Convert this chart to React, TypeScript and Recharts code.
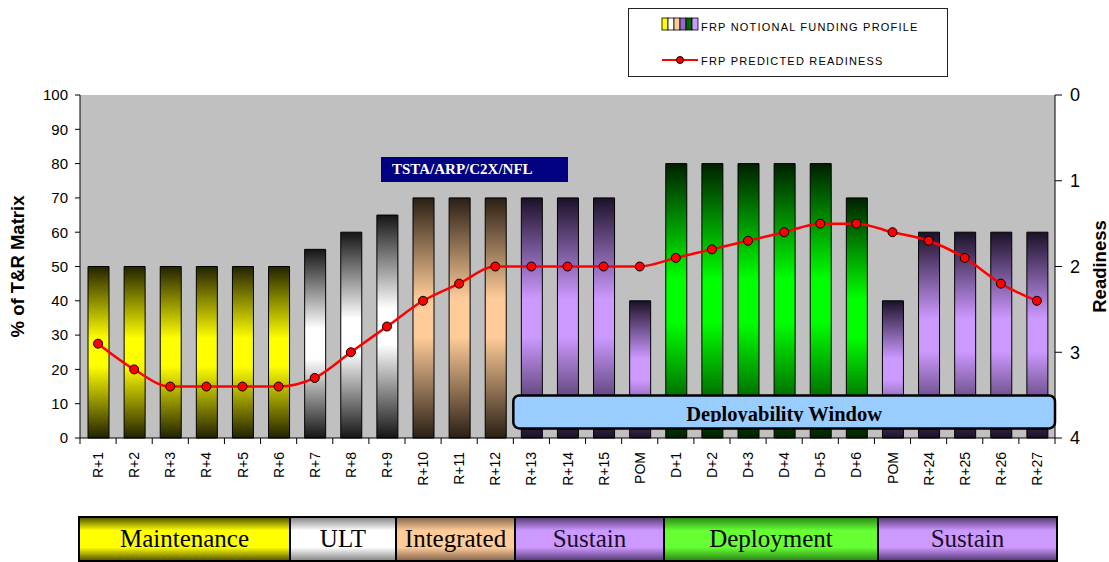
import React from 'react';
import {
  ComposedChart,
  Bar,
  Line,
  XAxis,
  YAxis,
  Cell,
  ReferenceArea,
  Legend,
  Label,
  CartesianGrid,
} from 'recharts';

// ---------- data ----------
const categories = [
  'R+1', 'R+2', 'R+3', 'R+4', 'R+5', 'R+6', 'R+7', 'R+8', 'R+9', 'R+10', 'R+11', 'R+12',
  'R+13', 'R+14', 'R+15', 'POM', 'D+1', 'D+2', 'D+3', 'D+4', 'D+5', 'D+6', 'POM',
  'R+24', 'R+25', 'R+26', 'R+27',
];
const fundingProfile = [
  50, 50, 50, 50, 50, 50, 55, 60, 65, 70, 70, 70, 70, 70, 70, 40, 80, 80, 80, 80, 80, 70, 40,
  60, 60, 60, 60,
];
const predictedReadiness = [
  2.9, 3.2, 3.4, 3.4, 3.4, 3.4, 3.3, 3.0, 2.7, 2.4, 2.2, 2.0, 2.0, 2.0, 2.0, 2.0, 1.9, 1.8, 1.7,
  1.6, 1.5, 1.5, 1.6, 1.7, 1.9, 2.2, 2.4,
];
const barPhases = [
  'maint', 'maint', 'maint', 'maint', 'maint', 'maint', 'ult', 'ult', 'ult', 'integ', 'integ',
  'integ', 'sustain', 'sustain', 'sustain', 'sustain', 'deploy', 'deploy', 'deploy', 'deploy',
  'deploy', 'deploy', 'sustain', 'sustain', 'sustain', 'sustain', 'sustain',
];
const leftTicks = [0, 10, 20, 30, 40, 50, 60, 70, 80, 90, 100];
const rightTicks = [0, 1, 2, 3, 4];
const phaseLabels = ['Maintenance', 'ULT', 'Integrated', 'Sustain', 'Deployment', 'Sustain'];
const phaseKinds = ['maint', 'ult', 'integ', 'sustain', 'deploy', 'sustain'];
const annotationLabel = 'TSTA/ARP/C2X/NFL';
const windowLabel = 'Deployability Window';
const windowFirstIndex = 12;
const windowLastIndex = 26;

// ---------- layout / style ----------
const W = 1109;
const H = 562;
const PLOT_LEFT = 80;
const PLOT_RIGHT = 1055;
const PLOT_TOP = 95;
const PLOT_BOTTOM = 438;
const BAND = (PLOT_RIGHT - PLOT_LEFT) / categories.length;
const ARIAL = 'Arial, "Liberation Sans", sans-serif';
const TIMES = '"Times New Roman", "Liberation Serif", serif';
const phaseWidths = [211, 106, 119, 149, 214, 181];
const WINDOW_Y = [2.8, 12.4];

const BAR_GRAD: Record<string, [string, string]> = {
  maint: ['#222200', '#ffff00'],
  ult: ['#151515', '#ffffff'],
  integ: ['#2a1f14', '#ffcc99'],
  sustain: ['#1b1128', '#cc99ff'],
  deploy: ['#002000', '#00ff00'],
};
const PHASE_GRAD: Record<string, [string, string]> = {
  maint: ['#5a5a00', '#ffff00'],
  ult: ['#8a8a8a', '#ffffff'],
  integ: ['#8a6a50', '#ffcc99'],
  sustain: ['#5a3d7a', '#cc99ff'],
  deploy: ['#2d8a18', '#66ff33'],
};
const LEGEND_STRIPES = ['#ffff00', '#ffffff', '#ffcc99', '#9966cc', '#006600', '#cc99ff'];

const data = categories.map((c, i) => ({
  idx: i,
  label: c,
  funding: fundingProfile[i],
  readiness: predictedReadiness[i],
  phase: barPhases[i],
}));

function XTick(props: any) {
  const { x, y, payload } = props;
  const i = Number(payload.value);
  const label = categories[i];
  const left = x - BAND / 2;
  return (
    <g>
      <line x1={left} x2={left} y1={y} y2={y + 6} stroke="#000" strokeWidth={1} />
      {i === categories.length - 1 && (
        <line x1={x + BAND / 2} x2={x + BAND / 2} y1={y} y2={y + 6} stroke="#000" strokeWidth={1} />
      )}
      <text
        transform={`translate(${x + 5},${y + 14}) rotate(-90)`}
        textAnchor="end"
        fontFamily={ARIAL}
        fontSize={14}
        fill="#000"
      >
        {label}
      </text>
    </g>
  );
}

function DeployBox(props: any) {
  const { x, y, width, height } = props;
  return (
    <g>
      <defs>
        <clipPath id="deployClip">
          <rect x={x} y={y} width={width} height={26.5} />
        </clipPath>
      </defs>
      <rect
        x={x}
        y={y}
        width={width}
        height={height}
        rx={6}
        ry={6}
        fill="#99ccff"
        stroke="#000"
        strokeWidth={2.5}
      />
      <text
        x={x + width / 2}
        y={y + 26}
        textAnchor="middle"
        fontFamily={TIMES}
        fontWeight="bold"
        fontSize={20.5}
        fill="#000"
        clipPath="url(#deployClip)"
      >
        {windowLabel}
      </text>
    </g>
  );
}

function LegendBox() {
  return (
    <div
      style={{
        width: 320,
        height: 69,
        border: '1px solid #222',
        background: '#fff',
        position: 'relative',
        boxSizing: 'border-box',
      }}
    >
      <svg width={320} height={69} style={{ position: 'absolute', left: 0, top: 0 }}>
        {LEGEND_STRIPES.map((c, i) => (
          <rect key={i} x={33 + i * 6} y={9} width={6} height={12} fill={c} stroke="#000" strokeWidth={0.8} />
        ))}
        <text x={72} y={22} fontFamily={ARIAL} fontSize={11} letterSpacing={1.2} fill="#000">
          FRP NOTIONAL FUNDING PROFILE
        </text>
        <line x1={33} x2={69} y1={51} y2={51} stroke="#ff0000" strokeWidth={2} />
        <circle cx={51} cy={51} r={3.5} fill="#ff0000" stroke="#000" strokeWidth={1} />
        <text x={72} y={56} fontFamily={ARIAL} fontSize={11} letterSpacing={1.2} fill="#000">
          FRP PREDICTED READINESS
        </text>
      </svg>
    </div>
  );
}

function gradId(kind: string) {
  return `bar-${kind}`;
}

export default function App() {
  let acc = 78;
  const phaseStarts = phaseWidths.map((w) => {
    const s = acc;
    acc += w;
    return s;
  });
  return (
    <div style={{ position: 'absolute', left: 0, top: 0, width: W, height: H, background: '#fff' }}>
      <ComposedChart
        width={W}
        height={H}
        data={data}
        margin={{ top: PLOT_TOP, right: 0, bottom: H - PLOT_BOTTOM - 60, left: 0 }}
      >
        <defs>
          {Object.keys(BAR_GRAD).map((k) => (
            <linearGradient key={k} id={gradId(k)} x1="0" y1="0" x2="0" y2="1">
              <stop offset="0" stopColor={BAR_GRAD[k][0]} />
              <stop offset="0.42" stopColor={BAR_GRAD[k][1]} />
              <stop offset="0.58" stopColor={BAR_GRAD[k][1]} />
              <stop offset="1" stopColor={BAR_GRAD[k][0]} />
            </linearGradient>
          ))}
        </defs>
        <CartesianGrid horizontal={false} vertical={false} fill="#c0c0c0" fillOpacity={1} stroke="none" />
        <XAxis
          dataKey="idx"
          type="category"
          interval={0}
          height={60}
          tickLine={false}
          tickSize={0}
          tickMargin={0}
          axisLine={{ stroke: '#000', strokeWidth: 1 }}
          tick={<XTick />}
        />
        <YAxis
          yAxisId="left"
          orientation="left"
          width={PLOT_LEFT}
          domain={[0, 100]}
          ticks={leftTicks}
          interval={0}
          tickSize={5}
          tickMargin={7}
          axisLine={{ stroke: '#000' }}
          tickLine={{ stroke: '#000' }}
          tick={{ fill: '#000', fontSize: 15, fontFamily: ARIAL }}
          label={
            <Label
              content={() => (
                <text
                  transform={`translate(24,${(PLOT_TOP + PLOT_BOTTOM) / 2}) rotate(-90)`}
                  textAnchor="middle"
                  fontFamily={ARIAL}
                  fontWeight="bold"
                  fontSize={18.5}
                  fill="#000"
                >
                  % of T&amp;R Matrix
                </text>
              )}
            />
          }
        />
        <YAxis
          yAxisId="right"
          orientation="right"
          width={W - PLOT_RIGHT}
          domain={[0, 4]}
          reversed
          ticks={rightTicks}
          interval={0}
          tickSize={7}
          tickMargin={8}
          axisLine={{ stroke: '#000' }}
          tickLine={{ stroke: '#000' }}
          tick={{ fill: '#000', fontSize: 18, fontFamily: ARIAL }}
          label={
            <Label
              content={() => (
                <text
                  transform={`translate(1106,${(PLOT_TOP + PLOT_BOTTOM) / 2}) rotate(-90)`}
                  textAnchor="middle"
                  fontFamily={ARIAL}
                  fontWeight="bold"
                  fontSize={18.5}
                  fill="#000"
                >
                  Readiness
                </text>
              )}
            />
          }
        />
        <Bar
          yAxisId="left"
          dataKey="funding"
          barSize={21}
          stroke="#000"
          strokeWidth={1}
          isAnimationActive={false}
          name="FRP NOTIONAL FUNDING PROFILE"
        >
          {data.map((d, i) => (
            <Cell key={i} fill={`url(#${gradId(d.phase)})`} />
          ))}
        </Bar>
        <ReferenceArea
          yAxisId="left"
          x1={windowFirstIndex}
          x2={windowLastIndex}
          y1={WINDOW_Y[0]}
          y2={WINDOW_Y[1]}
          shape={<DeployBox />}
          ifOverflow="visible"
          {...({ zIndex: 350 } as any)}
        />
        <Line
          yAxisId="right"
          dataKey="readiness"
          type="monotone"
          stroke="#ff0000"
          strokeWidth={2.5}
          dot={{ r: 4.5, fill: '#ff0000', stroke: '#000', strokeWidth: 1 }}
          isAnimationActive={false}
          name="FRP PREDICTED READINESS"
        />
        <Legend
          layout="vertical"
          align="center"
          verticalAlign="middle"
          content={() => <LegendBox />}
          wrapperStyle={{ position: 'absolute', left: 628, top: 8, width: 320, height: 69 }}
        />
      </ComposedChart>

      <div
        style={{
          position: 'absolute',
          left: 381,
          top: 157,
          width: 187,
          height: 25,
          background: '#000080',
          color: '#fff',
          fontFamily: TIMES,
          fontWeight: 'bold',
          fontSize: 15,
          lineHeight: '25px',
          paddingLeft: 11,
          boxSizing: 'border-box',
          whiteSpace: 'nowrap',
        }}
      >
        {annotationLabel}
      </div>

      {phaseLabels.map((p, i) => {
        const [edge, center] = PHASE_GRAD[phaseKinds[i]];
        return (
          <div
            key={i}
            style={{
              position: 'absolute',
              left: phaseStarts[i],
              top: 516,
              width: phaseWidths[i],
              height: 46,
              boxSizing: 'border-box',
              borderTop: '2px solid #000',
              borderBottom: '2px solid #000',
              borderLeft: '2px solid #000',
              borderRight: i === phaseLabels.length - 1 ? '2px solid #000' : 'none',
              background: `linear-gradient(to bottom, ${edge} 0%, ${center} 30%, ${center} 70%, ${edge} 100%)`,
              fontFamily: TIMES,
              fontSize: 25,
              color: phaseKinds[i] === 'sustain' ? '#1a0d26' : '#000',
              textAlign: 'center',
              lineHeight: '42px',
              whiteSpace: 'nowrap',
              overflow: 'hidden',
            }}
          >
            {p}
          </div>
        );
      })}
    </div>
  );
}
